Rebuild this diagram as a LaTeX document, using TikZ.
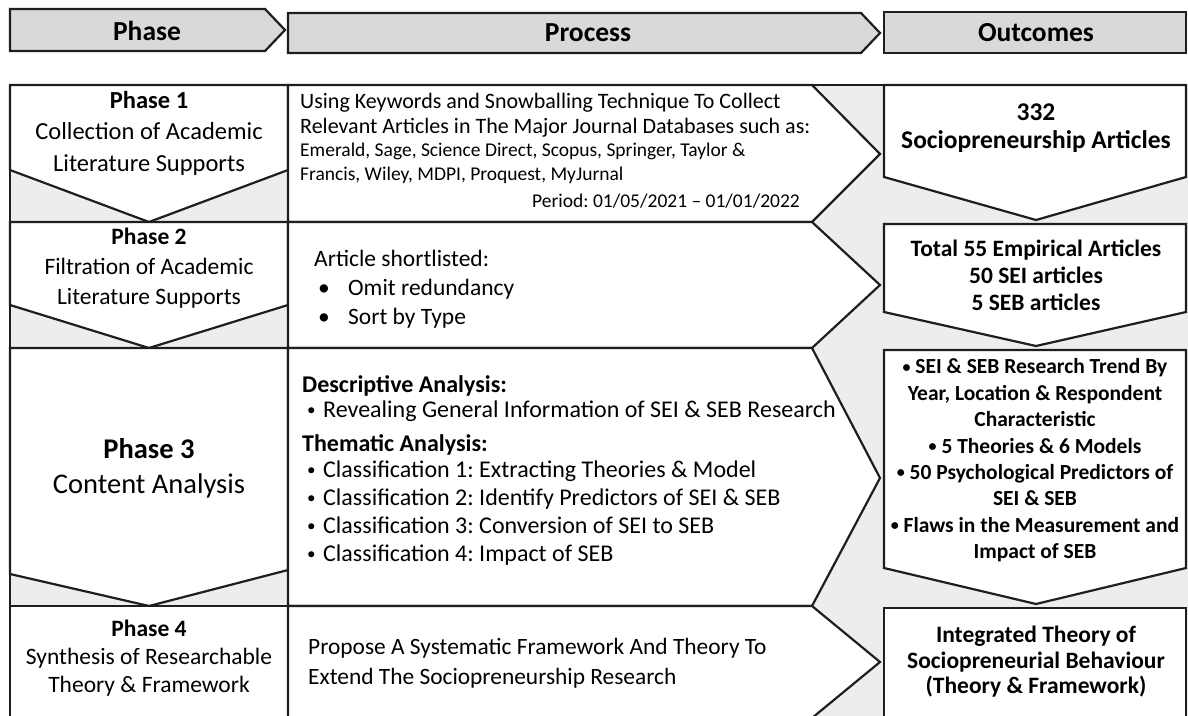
\documentclass[tikz,border=0pt]{standalone}
\usepackage{fontspec}
\setmainfont{Carlito}
\frenchspacing
\definecolor{hdrfill}{HTML}{D9D9D9}
\definecolor{gapfill}{HTML}{EDEDED}
\definecolor{rule}{HTML}{1E1E1E}
\newcommand{\fsz}[2]{\fontsize{#1}{#2}\selectfont}
\newcommand{\bul}[1]{\makebox[#1][l]{\textbullet}}
\newcommand{\obul}{\raisebox{1.8pt}{\fsz{16}{16}\textbullet}}
\newcommand{\sbul}{\makebox[16pt][l]{\raisebox{2pt}{\fsz{17}{17}\textbullet}}}
\tikzset{
	shape line/.style={draw=rule, line width=2.2pt, line join=miter},
	head shape/.style={shape line, fill=hdrfill},
	cell shape/.style={shape line, fill=white},
	head text/.style={inner sep=0pt, font=\bfseries\fsz{27.5}{32}},
	phase text/.style={inner sep=0pt, align=center, font=\fsz{23.5}{31}},
	proc text/.style={inner sep=0pt, align=left, anchor=west, font=\fsz{24}{28}},
	out text/.style={inner sep=0pt, align=center, font=\bfseries\fsz{23.5}{27}},
}
\begin{document}
\begin{tikzpicture}[x=1pt,y=-1pt]
	\useasboundingbox (0,0) rectangle (1188,715);
	% header row
	\draw[head shape] (10,9) -- (265,9) -- (285,30) -- (265,51) -- (10,51) -- cycle;
	\draw[head shape] (288,13) -- (861,13) -- (880,33) -- (861,53) -- (288,53) -- cycle;
	\draw[head shape] (884,12) rectangle (1186,53);
	% grey gaps behind the cells
	\fill[gapfill] (10,85) rectangle (288,606);
	\fill[gapfill] (812,85) rectangle (1188,720);
	% phase column
	\draw[shape line] (10,85) rectangle (288,222);
	\draw[shape line] (10,222) rectangle (288,348);
	\draw[shape line] (10,348) rectangle (288,606);
	\draw[shape line] (10,606) rectangle (288,725);
	\draw[cell shape] (10,85) -- (288,85) -- (288,170) -- (149,222) -- (10,170) -- cycle;
	\draw[cell shape] (10,222) -- (288,222) -- (288,305) -- (149,348) -- (10,305) -- cycle;
	\draw[cell shape] (10,348) -- (288,348) -- (288,570) -- (149,606) -- (10,574) -- cycle;
	\draw[cell shape] (10,606) rectangle (288,725);
	% process column
	\draw[cell shape] (288,85) -- (812,85) -- (880,154) -- (812,222) -- (288,222) -- cycle;
	\draw[cell shape] (288,222) -- (812,222) -- (880,285) -- (812,348) -- (288,348) -- cycle;
	\draw[cell shape] (288,348) -- (812,348) -- (880,478) -- (812,606) -- (288,606) -- cycle;
	\draw[cell shape] (288,606) -- (812,606) -- (880,662) -- (812,718) -- (812,725) -- (288,725) -- cycle;
	\draw[shape line] (812,85) -- (884,85);
	% outcome column
	\draw[cell shape] (884,85) -- (1186,85) -- (1186,177) -- (1036,220) -- (884,177) -- cycle;
	\draw[cell shape] (884,224) -- (1186,224) -- (1186,312) -- (1036,346) -- (884,312) -- cycle;
	\draw[cell shape] (884,350) -- (1186,350) -- (1186,568) -- (1036,604) -- (884,568) -- cycle;
	\draw[cell shape] (884,608) rectangle (1186,725);

	\path
		  (147,31)  node[head text] (hphase)   {Phase}
		  (588,33)  node[head text] (hprocess) {Process}
		  (1036,33) node[head text] (houtcome) {Outcomes}
		  (149,133) node[phase text, font=\fsz{24.5}{31.5}] (phase1)
			{\textbf{Phase 1}\\Collection of Academic\\Literature Supports}
		  (149,268) node[phase text, font=\fsz{23.5}{30}] (phase2)
			{\textbf{Phase 2}\\Filtration of Academic\\Literature Supports}
		  (149,468) node[phase text, font=\fsz{28.5}{35}] (phase3)
			{\textbf{Phase 3}\\Content Analysis}
		  (149,658) node[phase text, font=\fsz{23.5}{28}] (phase4)
			{\textbf{Phase 4}\\Synthesis of Researchable\\Theory \& Framework}
	;
	% process texts
	\path
		  (300,115) node[proc text, font=\fsz{22}{25}] (collect)
			{Using Keywords and Snowballing Technique To Collect\\
			 Relevant Articles in The Major Journal Databases such as:}
		  (300,163) node[proc text, font=\fsz{19.5}{24}] (databases)
			{Emerald, Sage, Science Direct, Scopus, Springer, Taylor \&\\
			 Francis, Wiley, MDPI, Proquest, MyJurnal}
		  (800,201) node[proc text, anchor=east, font=\fsz{19.5}{24}] (period)
			{Period: 01/05/2021 – 01/01/2022}
		  (314,258) node[proc text, font=\fsz{23.5}{29}] (shortlist) {Article shortlisted:}
		  (318,303.5) node[proc text, font=\fsz{23.5}{29}] (filters)
			{\bul{30pt}Omit redundancy\\\bul{30pt}Sort by Type}
		  (302,386) node[proc text, font=\bfseries\fsz{24}{28}] (descr) {Descriptive Analysis:}
		  (307,411) node[proc text] (reveal)
			{\sbul Revealing General Information of SEI \& SEB Research}
		  (302,445) node[proc text, font=\bfseries\fsz{24}{28}] (thematic) {Thematic Analysis:}
		  (307,513) node[proc text] (classes)
			{\sbul Classification 1: Extracting Theories \& Model\\
			 \sbul Classification 2: Identify Predictors of SEI \& SEB\\
			 \sbul Classification 3: Conversion of SEI to SEB\\
			 \sbul Classification 4: Impact of SEB}
		  (308,663) node[proc text, font=\fsz{23.4}{30}] (propose)
			{Propose A Systematic Framework And Theory To\\
			 Extend The Sociopreneurship Research}
	;
	% outcome texts
	\path
		  (1036,128) node[out text, font=\bfseries\fsz{25.5}{28}] (out1)
			{332\\Sociopreneurship Articles}
		  (1036,275) node[out text] (out2)
			{Total 55 Empirical Articles\\50 SEI articles\\5 SEB articles}
		  (1035,460.5) node[out text, font=\bfseries\fsz{21.5}{26.4}] (out3)
			{\obul\ SEI \& SEB Research Trend By\\
			 Year, Location \& Respondent\\
			 Characteristic\\
			 \obul\ 5 Theories \& 6 Models\\
			 \obul\ 50 Psychological Predictors of\\
			 SEI \& SEB\\
			 \obul\ Flaws in the Measurement and\\
			 Impact of SEB}
		  (1036,662) node[out text, font=\bfseries\fsz{23.5}{25.5}] (out4)
			{Integrated Theory of\\Sociopreneurial Behaviour\\(Theory \& Framework)}
	;
\end{tikzpicture}
\end{document}
